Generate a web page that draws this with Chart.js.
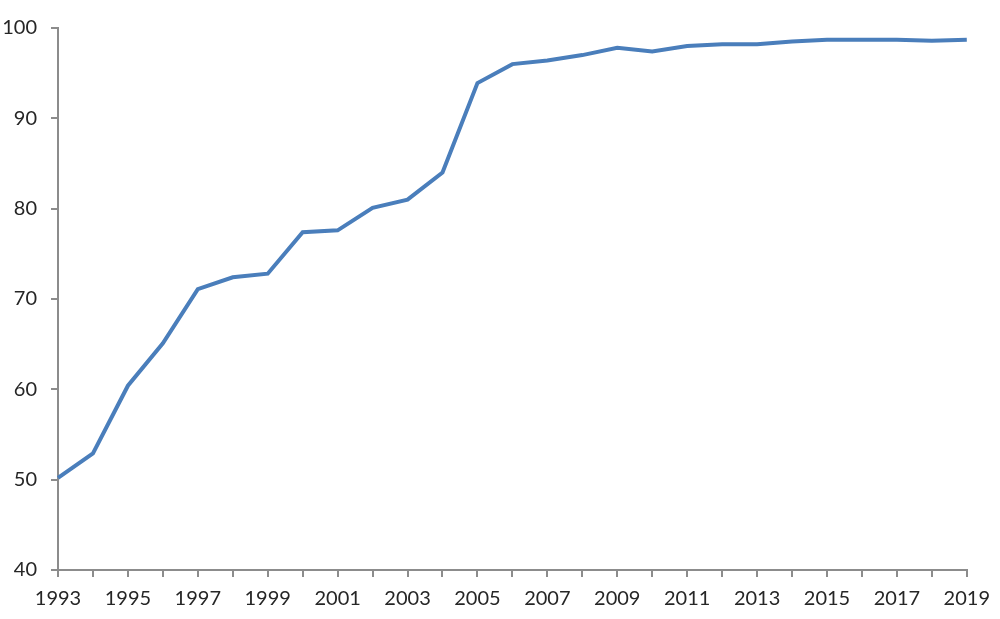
<!DOCTYPE html>
<html>
<head>
<meta charset="utf-8">
<script src="https://cdn.jsdelivr.net/npm/chart.js@4"></script>
<style>
  html, body { margin: 0; padding: 0; background: #fff; }
  #wrap { width: 1000px; height: 619px; }
</style>
</head>
<body>
<div id="wrap"><canvas id="grafico"></canvas></div>
<script>
const anos = ['1993','1994','1995','1996','1997','1998','1999','2000','2001','2002','2003','2004','2005','2006',
    '2007','2008','2009','2010','2011','2012','2013','2014','2015','2016','2017','2018','2019'];
const valores = [50.2, 52.9, 60.4, 65.1, 71.1, 72.4, 72.8, 77.4, 77.6, 80.1, 81.0, 84.0, 93.9, 96.0,
    96.4, 97.0, 97.8, 97.4, 98.0, 98.2, 98.2, 98.5, 98.7, 98.7, 98.7, 98.6, 98.7];
const yTicks = [40, 50, 60, 70, 80, 90, 100];

const cinza = '#8c8c8c';

new Chart(document.getElementById('grafico'), {
    type: 'line',
    data: {
        labels: anos,
        datasets: [{
            data: valores,
            borderColor: '#4a7ebb',
            borderWidth: 4,
            pointRadius: 0,
            tension: 0,
            fill: false
        }]
    },
    options: {
        responsive: true,
        maintainAspectRatio: false,
        animation: false,
        layout: { padding: { left: 0, right: 33, top: 28, bottom: 0 } },
        plugins: { legend: { display: false }, tooltip: { enabled: false } },
        scales: {
            x: {
                offset: false,
                grid: { display: true, drawOnChartArea: false, drawTicks: true, tickLength: 7, color: cinza, lineWidth: 2 },
                border: { display: true, color: cinza, width: 2 },
                ticks: {
                    autoSkip: false,
                    maxRotation: 0,
                    padding: 10,
                    color: '#262626',
                    font: { family: 'Lato', size: 20 },
                    callback: (v, i) => (i % 2 === 0 ? anos[i] : '')
                },
                afterFit: (s) => { s.height = 49; }
            },
            y: {
                min: 40,
                max: 100,
                afterBuildTicks: (s) => { s.ticks = yTicks.map(v => ({ value: v })); },
                grid: { display: true, drawOnChartArea: false, drawTicks: true, tickLength: 7, color: cinza, lineWidth: 2 },
                border: { display: true, color: cinza, width: 2 },
                ticks: {
                    padding: 14,
                    color: '#262626',
                    font: { family: 'Lato', size: 20 }
                },
                afterFit: (s) => { s.width = 58; }
            }
        }
    }
});
</script>
</body>
</html>
